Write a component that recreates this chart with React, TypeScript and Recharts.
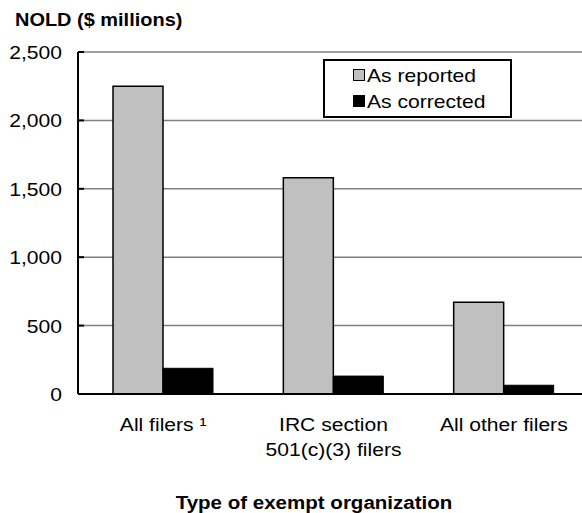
import React from 'react';
import { BarChart, Bar, XAxis, YAxis, CartesianGrid } from 'recharts';

const categories = ['All filers ¹', 'IRC section\n501(c)(3) filers', 'All other filers'];
const asReported = [2250, 1580, 670];
const asCorrected = [188, 131, 64];
const yTicks = [0, 500, 1000, 1500, 2000, 2500];

const data = categories.map((name, i) => ({
  name,
  reported: asReported[i],
  corrected: asCorrected[i],
}));

const FONT = 'Liberation Sans, Arial, sans-serif';
const SX = 1.14; // reference text is a bit wider than plain Arial

const fmt = (v: number) => v.toLocaleString('en-US');

function YTick(props: any) {
  const { x, y, payload } = props;
  return (
    <g>
      <line x1={x + 16} x2={x + 22} y1={y} y2={y} stroke="#000" strokeWidth={2} />
      <text
        transform={`translate(${x},${y}) scale(${SX},1)`}
        dy={7}
        textAnchor="end"
        fontSize={18.5}
        fill="#000"
        fontFamily={FONT}
      >
        {fmt(payload.value)}
      </text>
    </g>
  );
}

function XTick(props: any) {
  const { x, y, payload } = props;
  const lines = String(payload.value).split('\n');
  return (
    <text
      transform={`translate(${x},${y}) scale(${SX},1)`}
      textAnchor="middle"
      fontSize={18.5}
      fill="#000"
      fontFamily={FONT}
    >
      {lines.map((l, i) => (
        <tspan key={i} x={0} dy={i === 0 ? 37 : 25}>{l}</tspan>
      ))}
    </text>
  );
}

const legendItems = [
  { label: 'As reported', color: '#c0c0c0' },
  { label: 'As corrected', color: '#000' },
];

function LegendBox() {
  return (
    <div
      style={{
        position: 'absolute',
        left: 323,
        top: 59,
        border: '2px solid #000',
        width: 185,
        height: 55,
        fontFamily: FONT,
        fontSize: 18.5,
        background: '#fff',
        zIndex: 2,
      }}
    >
      {legendItems.map((it, i) => (
        <React.Fragment key={it.label}>
          <span
            style={{
              position: 'absolute',
              left: 28,
              top: 8 + i * 26,
              width: 10,
              height: 10,
              background: it.color,
              border: '1.5px solid #000',
            }}
          />
          <span
            style={{
              position: 'absolute',
              left: 42,
              top: 4 + i * 26,
              whiteSpace: 'nowrap',
              transform: `scaleX(${SX})`,
              transformOrigin: 'left',
            }}
          >
            {it.label}
          </span>
        </React.Fragment>
      ))}
    </div>
  );
}

export default function App() {
  return (
    <div style={{ position: 'absolute', left: 0, top: 0, width: 582, height: 513, background: '#fff', fontFamily: FONT, overflow: 'hidden' }}>
      <BarChart
        width={582}
        height={513}
        data={data}
        margin={{ top: 52, right: -7, left: 0, bottom: 0 }}
        barGap={0}
        barCategoryGap={35}
      >
        <CartesianGrid vertical={false} stroke="#808080" strokeWidth={1.5} />
        <XAxis
          dataKey="name"
          axisLine={{ stroke: '#000', strokeWidth: 2 }}
          tickLine={false}
          tickSize={0}
          tickMargin={0}
          tick={<XTick />}
          height={119}
          interval={0}
        />
        <YAxis
          domain={[0, 2500]}
          ticks={yTicks}
          width={78}
          axisLine={{ stroke: '#000', strokeWidth: 2 }}
          tickLine={false}
          tickSize={0}
          tickMargin={16}
          tick={<YTick />}
        />
        <Bar dataKey="reported" fill="#c0c0c0" stroke="#000" strokeWidth={1.5} barSize={50} isAnimationActive={false} />
        <Bar dataKey="corrected" fill="#000" stroke="#000" strokeWidth={1} barSize={50} isAnimationActive={false} />
      </BarChart>
      <LegendBox />
      <div
        style={{
          position: 'absolute',
          left: 15,
          top: 10,
          fontSize: 17.5,
          fontWeight: 700,
          whiteSpace: 'nowrap',
          transform: `scaleX(${SX})`,
          transformOrigin: 'left',
          zIndex: 3,
        }}
      >
        NOLD ($ millions)
      </div>
      <div
        style={{
          position: 'absolute',
          left: 114,
          width: 400,
          top: 493,
          textAlign: 'center',
          fontSize: 18,
          fontWeight: 700,
          whiteSpace: 'nowrap',
          transform: `scaleX(${SX})`,
          transformOrigin: 'center',
          zIndex: 3,
        }}
      >
        Type of exempt organization
      </div>
    </div>
  );
}
